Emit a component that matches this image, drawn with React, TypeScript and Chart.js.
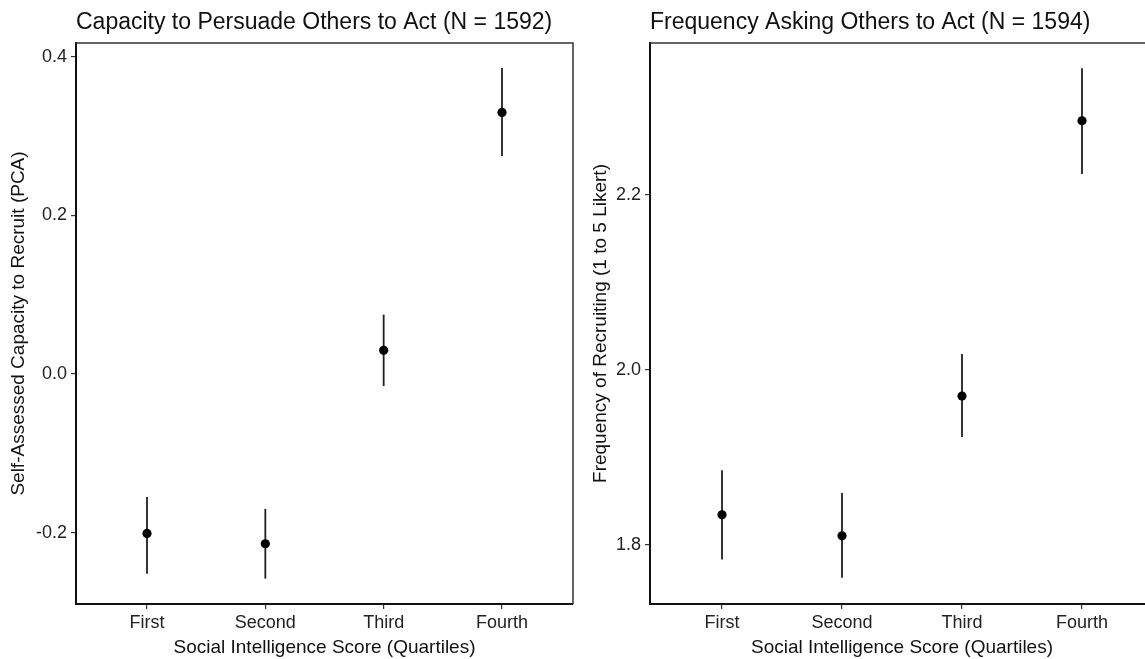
import React, { useEffect, useRef } from "react";
import { Chart, registerables } from "chart.js";

Chart.register(...registerables);

const categories = ["First", "Second", "Third", "Fourth"];
const xPositions = [1, 2, 3, 4];

const persuadeMean = [-0.201, -0.214, 0.03, 0.33];
const persuadeLower = [-0.252, -0.258, -0.015, 0.275];
const persuadeUpper = [-0.155, -0.17, 0.075, 0.386];
const persuadeTicks = [-0.2, 0.0, 0.2, 0.4];

const askingMean = [1.834, 1.81, 1.97, 2.285];
const askingLower = [1.783, 1.762, 1.923, 2.224];
const askingUpper = [1.885, 1.859, 2.018, 2.345];
const askingTicks = [1.8, 2.0, 2.2];

const FONT = "'Liberation Sans', Arial, Helvetica, sans-serif";

const framePlugin = {
  id: "frameTopRight",
  afterDatasetsDraw(chart: any) {
    const { ctx, chartArea: a } = chart;
    ctx.save();
    ctx.strokeStyle = "#333";
    ctx.lineWidth = 1.5;
    ctx.beginPath();
    ctx.moveTo(a.left, a.top);
    ctx.lineTo(a.right, a.top);
    ctx.lineTo(a.right, a.bottom);
    ctx.stroke();
    ctx.restore();
  },
};

type PanelProps = {
  title: string;
  yTitle: string;
  mean: number[];
  lower: number[];
  upper: number[];
  ticks: number[];
  yMin: number;
  yMax: number;
  yAxisWidth: number;
  yTitlePad: number;
  padRight: number;
  left: number;
};

function Panel(p: PanelProps) {
  const ref = useRef<HTMLCanvasElement | null>(null);
  useEffect(() => {
    if (!ref.current) return;
    const chart = new Chart(ref.current, {
      type: "scatter",
      data: {
        datasets: [
          {
            type: "scatter",
            order: 0,
            data: xPositions.map((x, i) => ({ x, y: p.mean[i] })),
            pointRadius: 4.6,
            pointBackgroundColor: "#000",
            pointBorderColor: "#000",
            pointBorderWidth: 0,
          } as any,
          {
            type: "bar",
            order: 1,
            data: xPositions.map((x, i) => ({ x, y: [p.lower[i], p.upper[i]] })),
            backgroundColor: "#1f1f1f",
            borderWidth: 0,
            barThickness: 1.8,
            inflateAmount: 0,
          } as any,
        ],
      },
      options: {
        responsive: false,
        animation: false,
        devicePixelRatio: 1,
        layout: { padding: { left: 0, right: p.padRight, top: 0, bottom: 0 } },
        plugins: {
          legend: { display: false },
          tooltip: { enabled: false },
          title: {
            display: true,
            text: p.title,
            align: "start",
            fullSize: false,
            color: "#111",
            font: { size: 23, family: FONT, weight: "normal" },
            padding: { top: 9, bottom: 6.4 },
          } as any,
        },
        scales: {
          x: {
            type: "linear",
            min: 0.4,
            max: 4.6,
            offset: false,
            afterBuildTicks: (s: any) => {
              s.ticks = xPositions.map((v) => ({ value: v }));
            },
            afterFit: (s: any) => {
              s.height = 55;
            },
            ticks: {
              padding: 3.5,
              color: "#222",
              font: { size: 18, family: FONT },
              callback: (v: any) => categories[Number(v) - 1] ?? "",
            },
            grid: {
              display: true,
              offset: false,
              drawOnChartArea: false,
              drawTicks: true,
              tickLength: 5,
              color: "#333",
              lineWidth: 1.2,
            },
            border: { display: true, color: "#111", width: 2 },
            title: {
              display: true,
              text: "Social Intelligence Score (Quartiles)",
              color: "#111",
              font: { size: 19, family: FONT },
              padding: { top: 0, bottom: 0 },
            },
          },
          y: {
            type: "linear",
            min: p.yMin,
            max: p.yMax,
            afterBuildTicks: (s: any) => {
              s.ticks = p.ticks.map((v) => ({ value: v }));
            },
            afterFit: (s: any) => {
              s.width = p.yAxisWidth;
            },
            ticks: {
              padding: 4,
              color: "#222",
              font: { size: 18, family: FONT },
              callback: (v: any) => Number(v).toFixed(1),
            },
            grid: {
              display: true,
              drawOnChartArea: false,
              drawTicks: true,
              tickLength: 5,
              color: "#333",
              lineWidth: 1.2,
            },
            border: { display: true, color: "#111", width: 2 },
            title: {
              display: true,
              text: p.yTitle,
              color: "#111",
              font: { size: 19, family: FONT },
              padding: { top: p.yTitlePad, bottom: 0 },
            },
          },
        },
      } as any,
      plugins: [framePlugin],
    });
    return () => chart.destroy();
  }, []);
  return (
    <div style={{ position: "absolute", left: p.left, top: 0, width: 580, height: 659 }}>
      <canvas ref={ref} width={580} height={659} />
    </div>
  );
}

export default function App() {
  return (
    <div
      style={{
        position: "fixed",
        left: 0,
        top: 0,
        width: "100vw",
        height: "100vh",
        overflow: "hidden",
        background: "#fff",
      }}
    >
      <Panel
        title="Capacity to Persuade Others to Act (N = 1592)"
        yTitle="Self-Assessed Capacity to Recruit (PCA)"
        mean={persuadeMean}
        lower={persuadeLower}
        upper={persuadeUpper}
        ticks={persuadeTicks}
        yMin={-0.29}
        yMax={0.4176}
        yAxisWidth={76}
        yTitlePad={7}
        padRight={7}
        left={0}
      />
      <Panel
        title="Frequency Asking Others to Act (N = 1594)"
        yTitle="Frequency of Recruiting (1 to 5 Likert)"
        mean={askingMean}
        lower={askingLower}
        upper={askingUpper}
        ticks={askingTicks}
        yMin={1.732}
        yMax={2.374}
        yAxisWidth={70}
        yTitlePad={9}
        padRight={6}
        left={580}
      />
    </div>
  );
}
